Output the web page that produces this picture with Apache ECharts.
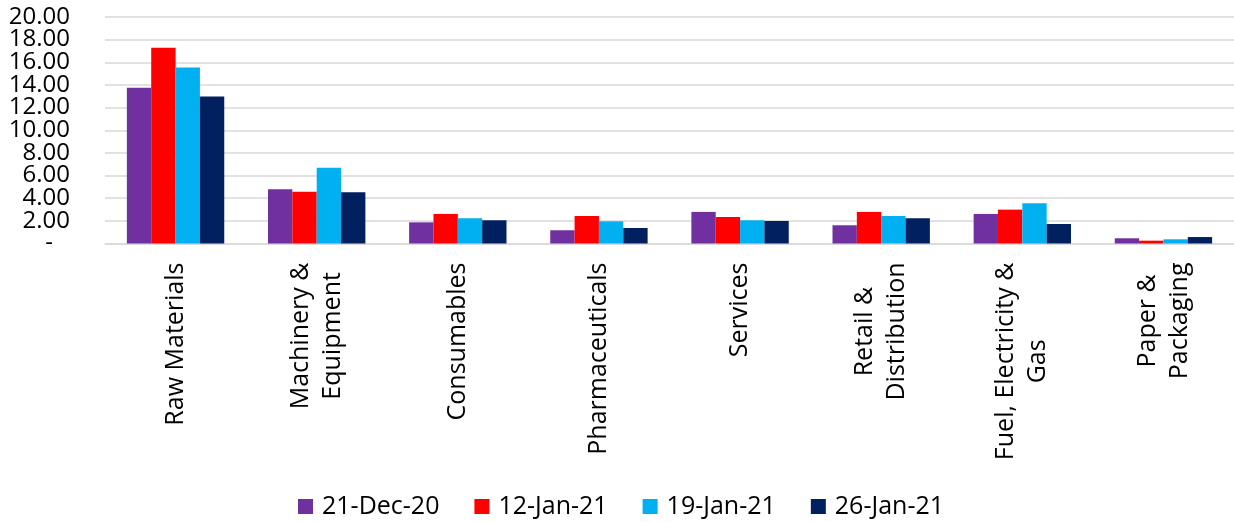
<!DOCTYPE html>
<html>
<head>
<meta charset="utf-8">
<script src="https://cdn.jsdelivr.net/npm/echarts@6/dist/echarts.min.js"></script>
<style>
  html, body { margin: 0; padding: 0; background: #ffffff; }
  #chart { width: 1234px; height: 522px; }
</style>
</head>
<body>
<div id="chart"></div>
<script>
// categories and series values
var categories = ['Raw Materials', 'Machinery &\nEquipment', 'Consumables', 'Pharmaceuticals',
  'Services', 'Retail &\nDistribution', 'Fuel, Electricity &\nGas', 'Paper &\nPackaging'];
var seriesNames = ['21-Dec-20', '12-Jan-21', '19-Jan-21', '26-Jan-21'];
var dec21 = [13.75, 4.79, 1.87, 1.17, 2.79, 1.61, 2.61, 0.46];
var jan12 = [17.28, 4.58, 2.61, 2.43, 2.34, 2.79, 2.99, 0.25];
var jan19 = [15.55, 6.68, 2.23, 1.96, 2.05, 2.43, 3.55, 0.37];
var jan26 = [12.98, 4.52, 2.05, 1.37, 1.99, 2.23, 1.72, 0.57];
var colors = ['#7030A0', '#FF0000', '#00B0F0', '#002060'];
var yMin = 0, yMax = 20, yStep = 2;

var font = 'Open Sans';
var chart = echarts.init(document.getElementById('chart'));

var values = [dec21, jan12, jan19, jan26];
var series = seriesNames.map(function (name, i) {
  return {
    name: name,
    type: 'bar',
    data: values[i],
    barGap: '0%',
    barCategoryGap: '31%',
    itemStyle: { color: colors[i] }
  };
});

function yLabel(v) {
  return v === 0 ? '{z|-}' : v.toFixed(2);
}
var yLabelStyle = {
  margin: 35,
  fontFamily: font,
  fontSize: 24,
  color: '#000000',
  hideOverlap: false,
  formatter: yLabel,
  rich: {
    z: { fontFamily: font, fontSize: 24, color: '#000000', padding: [0, 17, 0, 0] }
  }
};

chart.setOption({
  animation: false,
  color: colors,
  grid: {
    left: 105,
    right: -4,
    top: 17,
    bottom: 278.5
  },
  legend: {
    left: 298,
    top: 494,
    padding: 0,
    icon: 'rect',
    itemWidth: 15,
    itemHeight: 15,
    itemGap: 35,
    textStyle: {
      fontFamily: font,
      fontSize: 25,
      color: '#000000',
      padding: [0, 0, 0, 4]
    },
    data: seriesNames
  },
  xAxis: {
    type: 'category',
    data: categories,
    axisLine: { lineStyle: { color: '#d9d9d9', width: 1.5 } },
    axisTick: { show: false },
    axisLabel: {
      rotate: 90,
      margin: 19,
      interval: 0,
      fontFamily: font,
      fontSize: 25,
      color: '#000000',
      formatter: function (v) {
        return v.split('\n').map(function (s) { return '{c|' + s + '}'; }).join('\n');
      },
      rich: {
        c: { align: 'center', fontFamily: font, fontSize: 25, lineHeight: 32, color: '#000000' }
      }
    }
  },
  yAxis: [
    {
      // inner ticks (2 .. 18)
      type: 'value',
      position: 'left',
      min: yMin,
      max: yMax,
      interval: yStep,
      axisLine: { show: false },
      axisTick: { show: false },
      splitLine: { lineStyle: { color: '#d9d9d9', width: 1.5 } },
      axisLabel: Object.assign({ showMinLabel: false, showMaxLabel: false }, yLabelStyle)
    },
    {
      // end ticks (0 and 20)
      type: 'value',
      position: 'left',
      min: yMin,
      max: yMax,
      interval: yMax - yMin,
      axisLine: { show: false },
      axisTick: { show: false },
      splitLine: { show: false },
      axisLabel: Object.assign({ showMinLabel: true, showMaxLabel: true }, yLabelStyle)
    }
  ],
  series: series
});
</script>
</body>
</html>
